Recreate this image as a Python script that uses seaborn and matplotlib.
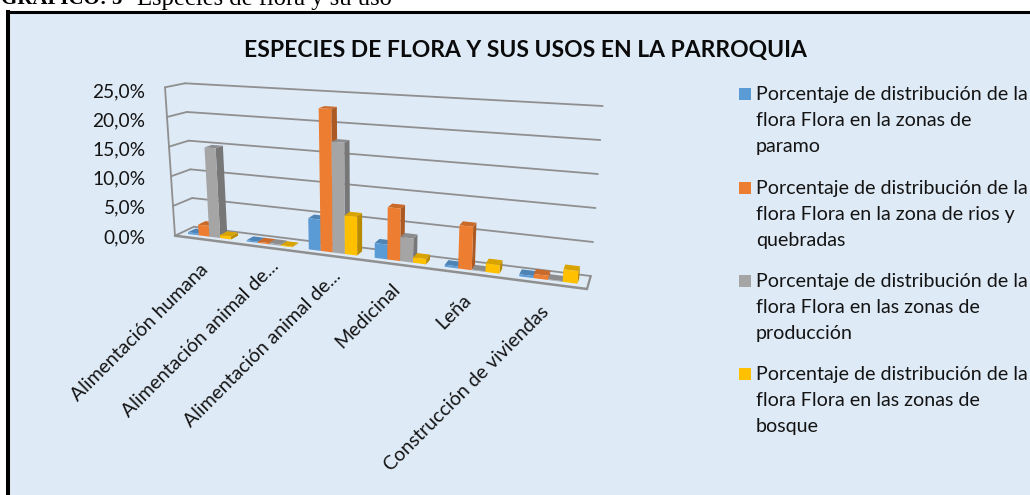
import numpy as np
import pandas as pd
import matplotlib
matplotlib.use('Agg')
import matplotlib.pyplot as plt
from matplotlib.patches import Polygon, Rectangle
from matplotlib.transforms import Transform, IdentityTransform
import seaborn as sns

# chart data (percent)
usos = ['Alimentación humana', 'Alimentación animal de...', 'Alimentación animal de...',
        'Medicinal', 'Leña', 'Construcción de viviendas']
paramo = [0.3, 0.2, 5.0, 2.3, 0.3, 0.3]
rios = [1.8, 0.2, 22.8, 8.1, 6.5, 0.6]
produccion = [15.0, 0.2, 17.6, 3.7, 0.1, 0.1]
bosque = [0.5, 0.1, 6.1, 0.8, 1.3, 1.8]
y_ticks = [0, 5, 10, 15, 20, 25]
y_labels = ['0,0%', '5,0%', '10,0%', '15,0%', '20,0%', '25,0%']
leyenda = ['Porcentaje de distribución de la\nflora Flora en la zonas de\nparamo',
           'Porcentaje de distribución de la\nflora Flora en la zona de rios y\nquebradas',
           'Porcentaje de distribución de la\nflora Flora en las zonas de\nproducción',
           'Porcentaje de distribución de la\nflora Flora en las zonas de\nbosque']
colores = ['#5B9BD5', '#ED7D31', '#A5A5A5', '#FFC000']

W, H = 1030, 495
FONDO = '#DEEAF6'
REJILLA = '#8F8F8F'
TEXTO = '#141414'

# corners of the 3d box in picture pixels (x, y from the top left)
FRENTE = {'il': (175, 235.7), 'sl': (165, 87.3), 'ir': (587, 289), 'sr': (599, 112)}
FONDO3D = {'il': (194, 226.7), 'sl': (185, 83.3), 'ir': (590.7, 276), 'sr': (602.7, 106)}
K = 1.2  # perspective along the category axis
D_INI, D_FIN = 0.30, 0.70  # depth of the bars inside the box
# label anchor offsets from the foot of each group, pixels
ETQ_DX = [-5, 5, 3, -6, -7, -6]
ETQ_DY = [-21, -10, -12, -16, -17, -19]


def proyectar(x, y, d=0.0):
    x = np.asarray(x, dtype=float)
    y = np.asarray(y, dtype=float)
    u = (x + 0.5) / 6
    s = u / (u + K * (1 - u))
    v = y / 25
    res = []
    for i in range(2):
        fr = ((1 - s) * (1 - v) * FRENTE['il'][i] + s * (1 - v) * FRENTE['ir'][i]
              + (1 - s) * v * FRENTE['sl'][i] + s * v * FRENTE['sr'][i])
        fo = ((1 - s) * (1 - v) * FONDO3D['il'][i] + s * (1 - v) * FONDO3D['ir'][i]
              + (1 - s) * v * FONDO3D['sl'][i] + s * v * FONDO3D['sr'][i])
        res.append(fr + (fo - fr) * d)
    return res[0], H - res[1]


class Camara(Transform):
    input_dims = 2
    output_dims = 2

    def __init__(self, d=0.0):
        super().__init__()
        self.d = d

    def transform_non_affine(self, values):
        values = np.asarray(values)
        px, py = proyectar(values[:, 0], values[:, 1], self.d)
        return np.column_stack([px, py])


def oscurecer(color, f):
    r, g, b = matplotlib.colors.to_rgb(color)
    return (r * f, g * f, b * f)


sns.set_theme(style='white')
plt.rcParams['font.family'] = ['Lato', 'DejaVu Sans']

df = pd.DataFrame({'pos': np.arange(6), 'Paramo': paramo, 'Rios': rios,
                   'Produccion': produccion, 'Bosque': bosque})
df = df.melt(id_vars='pos', var_name='zona', value_name='pct')

fig = plt.figure(figsize=(W / 100, H / 100), dpi=100, facecolor='white')
# the axes only carries the value scale next to the left wall of the box
ax = fig.add_axes([151 / W, 1 - 236 / H, 300 / W, 146 / H])
ax.patch.set_alpha(0)

# panel and frame
fig.add_artist(Rectangle((10 / W, 0), (W - 10) / W, (H - 13) / H, transform=fig.transFigure,
                         facecolor=FONDO, edgecolor='none', zorder=-5))
fig.add_artist(plt.Line2D([8 / W, 8 / W], [0, 1 - 10 / H], color='black', lw=2.9, zorder=-4,
                          solid_capstyle='butt'))
fig.add_artist(plt.Line2D([6 / W, 1], [1 - 11.5 / H, 1 - 11.5 / H], color='black', lw=2.2, zorder=-4,
                          solid_capstyle='butt'))

sns.barplot(data=df, x='pos', y='pct', hue='zona', palette=colores, width=0.74, gap=0,
            saturation=1, legend=False, ax=ax, native_scale=False)
ax.set_xlim(-0.5, 5.5)
ax.set_ylim(0, 25)
ax.set_xlabel('')
ax.set_ylabel('')
ax.set_xticks([])
ax.set_yticks(y_ticks)
ax.set_yticklabels(y_labels, fontsize=13.8, color=TEXTO)
ax.tick_params(axis='y', length=0, pad=4)
sns.despine(ax=ax, left=True, bottom=True)

# walls and floor of the box
id_tr = IdentityTransform()
for v in y_ticks:
    ax.plot([-0.5, 5.5], [v, v], transform=Camara(1.0), color=REJILLA, lw=1.3, clip_on=False, zorder=1)
    px, py = proyectar([-0.5, -0.5], [v, v], np.array([0.0, 1.0]))
    ax.plot(px, py, transform=id_tr, color=REJILLA, lw=1.3, clip_on=False, zorder=1)
ax.plot([-0.5, -0.5], [0, 25], transform=Camara(0.0), color=REJILLA, lw=1.3, clip_on=False, zorder=1)
ax.plot([-0.5, 5.5], [0, 0], transform=Camara(0.0), color=REJILLA, lw=1.8, clip_on=False, zorder=1)
px, py = proyectar([5.5, 5.5], [0, 0], np.array([0.0, 1.0]))
ax.plot(px, py, transform=id_tr, color=REJILLA, lw=1.6, clip_on=False, zorder=1)

# the seaborn bars become the front faces, side and top are added from their geometry
for cont, col in zip(ax.containers, colores):
    for bar in cont:
        x0, x1 = bar.get_x(), bar.get_x() + bar.get_width()
        h = bar.get_height()
        z = 3 + x0 * 2
        bar.set_transform(Camara(D_INI))
        bar.set_clip_on(False)
        bar.set_edgecolor('none')
        bar.set_zorder(z + 0.2)
        d_vals = np.array([D_INI, D_INI, D_FIN, D_FIN])
        tx, ty = proyectar([x0, x1, x1, x0], [h] * 4, d_vals)
        ax.add_patch(Polygon(np.column_stack([tx, ty]), transform=id_tr, clip_on=False,
                             facecolor=oscurecer(col, 0.85), edgecolor='none', zorder=z + 0.1))
        sx, sy = proyectar([x1, x1, x1, x1], [0, h, h, 0], d_vals)
        ax.add_patch(Polygon(np.column_stack([sx, sy]), transform=id_tr, clip_on=False,
                             facecolor=oscurecer(col, 0.72), edgecolor='none', zorder=z))

# category labels
for i, txt in enumerate(usos):
    px, py = proyectar(i, 0, 0.0)
    fig.text((float(px) + ETQ_DX[i]) / W, (float(py) + ETQ_DY[i]) / H, txt, rotation=45,
             rotation_mode='anchor', ha='right', va='top', fontsize=14, color=TEXTO)

# legend, one swatch at the first line of each entry
for txt, col, yc in zip(leyenda, colores, [94, 188, 281, 374]):
    fig.add_artist(Rectangle((739 / W, 1 - (yc + 6) / H), 12 / W, 12 / H, transform=fig.transFigure,
                             facecolor=col, edgecolor='none'))
    fig.text(756 / W, 1 - (yc - 8) / H, txt, ha='left', va='top', fontsize=14.1,
             linespacing=1.65, color=TEXTO)

fig.text(525 / W, 1 - 50 / H, 'ESPECIES DE FLORA Y SUS USOS EN LA PARROQUIA', ha='center', va='center',
         fontsize=16.5, fontweight='bold', color='#0a0a0a')

# caption cut by the top of the page
fig.text(122 / W, 1 - 4.5 / H, 'GRÁFICO: 5', ha='right', va='baseline', fontsize=15, fontweight='bold',
         family='Liberation Serif', color='black')
fig.text(137 / W, 1 - 4.5 / H, 'Especies de flora y su uso', ha='left', va='baseline', fontsize=17.7,
         family='Liberation Serif', color='black')

fig.savefig('out.png', dpi=100)
